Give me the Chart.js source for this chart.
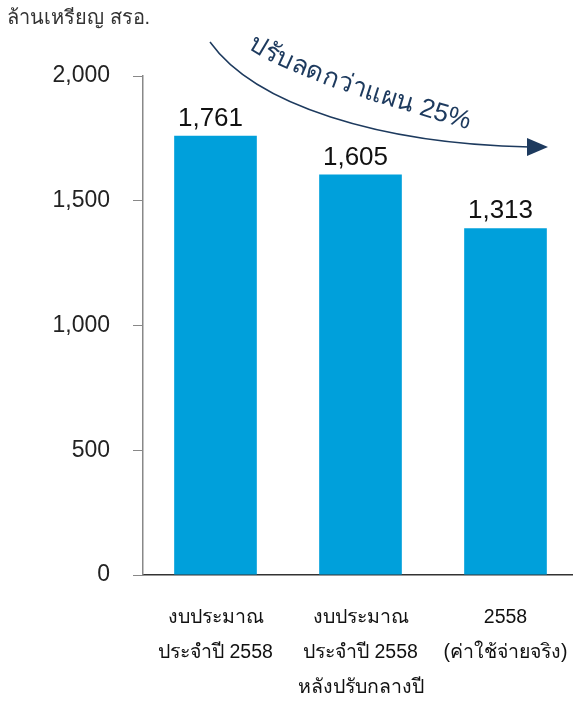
<!DOCTYPE html>
<html>
<head>
<meta charset="utf-8">
<script src="https://cdn.jsdelivr.net/npm/chart.js@4/dist/chart.umd.min.js"></script>
<style>
  html, body { margin: 0; padding: 0; background: #fff; overflow: hidden; }
  #wrap { width: 578px; height: 702px; position: relative; }
</style>
</head>
<body>
<div id="wrap"><canvas id="chart"></canvas></div>
<script>
const categories = [
  ["งบประมาณ", "ประจำปี 2558"],
  ["งบประมาณ", "ประจำปี 2558", "หลังปรับกลางปี"],
  ["2558", "(ค่าใช้จ่ายจริง)"],
];
// bar heights as drawn; the printed labels are kept separately
const barValues = [1761, 1605, 1390];
const valueLabels = ["1,761", "1,605", "1,313"];
const yTicks = [0, 500, 1000, 1500, 2000];
const unitTitle = "ล้านเหรียญ สรอ.";
const arrowText = "ปรับลดกว่าแผน 25%";

const FONT = "'Liberation Sans', Arial, 'Noto Sans', sans-serif";
const NAVY = "#1d3a5e";

function bez(p, t) {
  const u = 1 - t;
  return {
    x: u * u * u * p[0][0] + 3 * u * u * t * p[1][0] + 3 * u * t * t * p[2][0] + t * t * t * p[3][0],
    y: u * u * u * p[0][1] + 3 * u * u * t * p[1][1] + 3 * u * t * t * p[2][1] + t * t * t * p[3][1],
  };
}

// split Thai text so combining marks stay with their base letter
function clusters(str) {
  const out = [];
  for (const ch of str) {
    const c = ch.codePointAt(0);
    const mark = c === 0x0e31 || (c >= 0x0e34 && c <= 0x0e3a) || (c >= 0x0e47 && c <= 0x0e4e);
    if (mark && out.length) out[out.length - 1] += ch;
    else out.push(ch);
  }
  return out;
}

function textOnCurve(ctx, text, pts) {
  const samples = [];
  let len = 0, prev = bez(pts, 0);
  samples.push({ p: prev, s: 0 });
  for (let i = 1; i <= 400; i++) {
    const p = bez(pts, i / 400);
    len += Math.hypot(p.x - prev.x, p.y - prev.y);
    samples.push({ p, s: len });
    prev = p;
  }
  const at = (s) => {
    let i = samples.findIndex((q) => q.s >= s);
    if (i < 1) i = 1;
    const a = samples[i - 1].p, b = samples[i].p;
    return { x: a.x, y: a.y, ang: Math.atan2(b.y - a.y, b.x - a.x) };
  };
  const parts = clusters(text);
  const widths = parts.map((c) => ctx.measureText(c).width);
  const total = widths.reduce((a, b) => a + b, 0);
  let s = Math.max((len - total) / 2, 0);
  parts.forEach((c, i) => {
    const pos = at(s + widths[i] / 2);
    ctx.save();
    ctx.translate(pos.x, pos.y);
    ctx.rotate(pos.ang);
    ctx.fillText(c, 0, 0);
    ctx.restore();
    s += widths[i];
  });
}

const overlayPlugin = {
  id: "overlayPlugin",
  afterDatasetsDraw(chart) {
    const { ctx } = chart;
    const meta = chart.getDatasetMeta(0);

    // value labels above bars
    ctx.save();
    ctx.font = "26px " + FONT;
    ctx.fillStyle = "#111";
    ctx.textAlign = "center";
    ctx.textBaseline = "alphabetic";
    meta.data.forEach((bar, i) => {
      ctx.fillText(valueLabels[i], bar.x - 5, bar.y - 10);
    });
    ctx.restore();

    // unit title
    ctx.save();
    ctx.font = "20px " + FONT;
    ctx.fillStyle = "#333";
    ctx.textAlign = "left";
    ctx.textBaseline = "middle";
    ctx.fillText(unitTitle, 7, 18);
    ctx.restore();

    // curved arrow
    ctx.save();
    ctx.strokeStyle = NAVY;
    ctx.fillStyle = NAVY;
    ctx.lineWidth = 1.5;
    ctx.beginPath();
    ctx.moveTo(210, 42);
    ctx.bezierCurveTo(255, 105, 380, 144, 530, 147);
    ctx.stroke();
    ctx.beginPath();
    ctx.moveTo(548, 147);
    ctx.lineTo(527, 138);
    ctx.lineTo(527, 156);
    ctx.closePath();
    ctx.fill();

    ctx.font = "26px " + FONT;
    ctx.textAlign = "center";
    ctx.textBaseline = "alphabetic";
    textOnCurve(ctx, arrowText, [[243, 45], [285, 76], [385, 105], [474, 131]]);
    ctx.restore();
  },
};

new Chart(document.getElementById("chart"), {
  type: "bar",
  data: {
    labels: categories,
    datasets: [{
      data: barValues,
      backgroundColor: "#00a0db",
      barPercentage: 0.57,
      categoryPercentage: 1,
    }],
  },
  options: {
    responsive: true,
    maintainAspectRatio: false,
    animation: false,
    layout: { padding: { top: 76, right: 0, bottom: 0, left: 0 } },
    plugins: {
      legend: { display: false },
      tooltip: { enabled: false },
    },
    scales: {
      x: {
        afterFit: (scale) => {
          scale.height = 127;
          scale.paddingLeft = 0;
          scale.paddingRight = 0;
        },
        grid: { display: false },
        border: { display: true, color: "#333", width: 1.5 },
        ticks: {
          color: "#111",
          padding: 17,
          maxRotation: 0,
          autoSkip: false,
          font: { family: FONT, size: 19.5, lineHeight: 1.8 },
        },
      },
      y: {
        min: 0,
        max: 2000,
        afterFit: (scale) => { scale.width = 143; },
        afterBuildTicks: (scale) => {
          scale.ticks = yTicks.map((v) => ({ value: v }));
        },
        grid: {
          drawOnChartArea: false,
          drawTicks: true,
          tickLength: 10,
          color: "#888",
        },
        border: { display: true, color: "#888", width: 1.5 },
        ticks: {
          color: "#222",
          padding: 23,
          font: { family: FONT, size: 23 },
          callback: (v) => v.toLocaleString("en-US"),
        },
      },
    },
  },
  plugins: [overlayPlugin],
});
</script>
</body>
</html>
